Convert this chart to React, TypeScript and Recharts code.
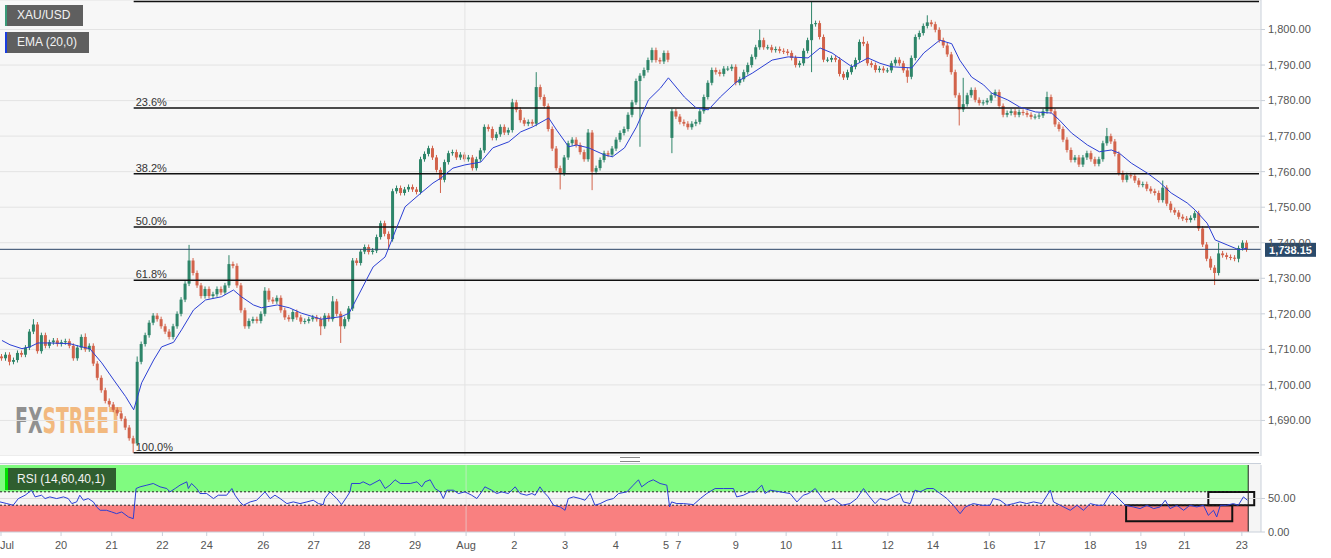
import { ComposedChart, Bar, Line, XAxis, YAxis, CartesianGrid, ReferenceLine, ReferenceArea } from "recharts";

const FONT = '"Liberation Sans", Arial, sans-serif';
const BULL = "#2e8569";
const BEAR = "#d2634b";
const EMA_BLUE = "#2b3fd4";
const AXIS = "#c9d0da";
const WICK = 0.7;

// XAU/USD candles (one per ~2h slot), open = previous close unless a gap open is given
const FIRST_OPEN = 1708;
const LAST_PRICE = 1738.15;
const closes = [
  1707.5, 1708.5, 1706.5, 1707, 1709, 1708.5, 1710.5, 1715, 1717, 1709.5,
  1714, 1711, 1712, 1712.5, 1711.5, 1712, 1712.3, 1711, 1707.5, 1710.5,
  1713.5, 1710, 1711, 1706, 1702, 1698.5, 1695.5, 1694.5, 1693, 1692,
  1690.5, 1688, 1685, 1683.5, 1706.5, 1711.5, 1714, 1717.5, 1719.5, 1718.5,
  1716.5, 1715, 1713.5, 1716.5, 1720, 1724, 1728.5, 1735, 1731.5, 1728,
  1725, 1727, 1725, 1725.5, 1727, 1726, 1728, 1734, 1733.5, 1728,
  1721, 1716.5, 1718, 1718.5, 1718, 1720, 1726.5, 1724, 1723.5, 1724.5,
  1721, 1719, 1718.5, 1720.5, 1719, 1717.8, 1718, 1718.5, 1719, 1718.5,
  1716.5, 1719.5, 1718.5, 1723.5, 1720, 1716.5, 1718.5, 1721.5, 1735, 1734.3,
  1737.5, 1738.8, 1737.4, 1737.8, 1741.6, 1745.5, 1742.5, 1741, 1754.5, 1755.4,
  1754, 1755, 1755.7, 1755, 1754.3, 1763.5, 1765, 1766.6, 1764, 1760.5,
  1757.7, 1762.7, 1765.2, 1765.5, 1764, 1764.8, 1763.5, 1764, 1761, 1763.5,
  1766, 1772.6, 1772, 1769.5, 1770.5, 1772.6, 1771, 1771.7, 1779.5, 1777.4,
  1774.5, 1773.5, 1774, 1773.5, 1783.8, 1781, 1778.5, 1772, 1766.5, 1761,
  1759.5, 1764, 1768, 1769, 1767.5, 1765.5, 1763.5, 1771, 1760, 1761,
  1763.3, 1765.2, 1764.8, 1766.5, 1769, 1770.9, 1772, 1776, 1779.5, 1785.5,
  1787, 1788.6, 1791.4, 1794.2, 1791.4, 1791, 1793.4, 1791.5, 1777, 1775.5,
  1774, 1773.5, 1772.5, 1773.5, 1774, 1777, 1781, 1785, 1788.6, 1788,
  1787.5, 1789, 1789, 1789.5, 1785, 1786, 1788, 1790, 1792.3, 1795,
  1797, 1795, 1795, 1794.2, 1794.5, 1794, 1793.8, 1793.4, 1792, 1790,
  1790.5, 1794, 1797, 1801.5, 1801.8, 1797.9, 1791.5, 1791.5, 1792, 1791.5,
  1787.5, 1786.5, 1788, 1789.5, 1791.4, 1796.5, 1796, 1790.5, 1790, 1788.6,
  1789, 1788.5, 1788.5, 1790.5, 1791.5, 1790.5, 1788.5, 1786.7, 1792, 1797.9,
  1799, 1801, 1802, 1801.5, 1799.9, 1797, 1795.5, 1793, 1788, 1781.5,
  1777.5, 1779, 1781.5, 1783, 1780.2, 1779.3, 1779.5, 1780, 1781.5, 1782.4,
  1778.5, 1776, 1776.5, 1777, 1776, 1776.8, 1776.5, 1776, 1775.4, 1775.5,
  1775.8, 1777, 1781, 1777, 1773.3, 1772, 1769, 1766.1, 1763.3, 1764,
  1762, 1764, 1765.2, 1763.5, 1762.2, 1763.5, 1768, 1770, 1768.5, 1765,
  1759.6, 1757.7, 1759, 1758.8, 1757.5, 1756.3, 1756.5, 1755.2, 1754.5, 1754,
  1752, 1755.5, 1751, 1749.2, 1748.5, 1747.3, 1746.8, 1746.4, 1747, 1748.3,
  1744, 1739.5, 1735.5, 1733, 1731.5, 1737, 1736.5, 1736, 1735.8, 1735.5,
  1738.5, 1740, 1738.15,
];
const gapOpens: Record<number, number> = { 168: 1769.5 };
const highs: Record<number, number> = {
  8: 1718.5, 21: 1714.5, 34: 1708, 47: 1739.4, 57: 1736.5, 66: 1727.5, 83: 1725,
  128: 1780.5, 134: 1788, 147: 1772, 190: 1800, 203: 1807.9, 204: 1802.5, 216: 1798,
  232: 1804, 241: 1786.4, 262: 1782.5, 277: 1772.3, 291: 1757.5, 305: 1740, 311: 1740.5,
};
const lows: Record<number, number> = {
  2: 1705.5, 33: 1680.9, 80: 1714, 85: 1711.8, 97: 1738, 110: 1754, 140: 1755, 148: 1754.8,
  160: 1767, 168: 1765.2, 203: 1788, 227: 1785, 240: 1773, 304: 1728.1, 310: 1734.5,
};

// EMA (20,0) read at candle slots
const emaPoints: [number, number][] = [
  [0, 1712.5], [1, 1711.9], [2, 1711.3], [5, 1710.2], [7, 1710.7], [9, 1711.8], [12, 1711.8], [17, 1711.6],
  [20, 1710.7], [22, 1710.2], [25, 1706.2], [28, 1701.4], [31, 1696.7], [33, 1693], [35, 1700.6],
  [38, 1707], [40, 1710.7], [43, 1712], [45, 1715.5], [48, 1721.1], [51, 1723.9], [55, 1724.8],
  [58, 1726.7], [60, 1724.8], [63, 1722.5], [65, 1721.7], [69, 1722.5], [72, 1721.7], [75, 1720.2],
  [80, 1718.5], [85, 1719.2], [87, 1720.2], [90, 1726.7], [93, 1733.2], [96, 1736], [99, 1744.5],
  [101, 1750.1], [105, 1754], [108, 1756.8], [110, 1758.2], [113, 1761], [116, 1761.9], [120, 1762.7],
  [123, 1766.7], [127, 1768.4], [130, 1771.2], [133, 1772.6], [137, 1775.1], [139, 1771.7], [142, 1767],
  [144, 1767.5], [147, 1766.7], [151, 1764.7], [153, 1764.2], [156, 1766.7], [159, 1772.6], [162, 1780.2],
  [165, 1783.5], [167, 1786.4], [171, 1781], [174, 1777.9], [177, 1777.4], [180, 1781], [184, 1785.2],
  [188, 1787.7], [193, 1791.4], [197, 1792.3], [202, 1792], [205, 1794.8], [208, 1793.4], [213, 1789.5],
  [217, 1792], [220, 1790.5], [223, 1789.5], [228, 1789.2], [231, 1793.4], [235, 1797], [238, 1796],
  [240, 1791.4], [243, 1786.6], [246, 1784.4], [248, 1782.1], [252, 1780.2], [255, 1778.2], [259, 1776.8],
  [263, 1776.5], [265, 1774.5], [268, 1770.9], [272, 1767.5], [275, 1765.6], [278, 1766.1], [280, 1765.2],
  [283, 1762.4], [287, 1759.6], [290, 1757.1], [293, 1754], [297, 1751.2], [299, 1749.2], [302, 1745.5],
  [304, 1740.8], [307, 1739.4], [310, 1738], [312, 1738.5],
];

// RSI (14,60,40,1)
const rsiPoints: [number, number][] = [
  [-0.5, 44.9], [1.2, 42.4], [2.8, 39.9], [4.1, 49.9], [5.8, 54.9], [7.4, 62.4], [8.3, 52.4], [9.9, 54.9],
  [10.8, 49.9], [12, 52.4], [13.7, 49.9], [15.4, 52.4], [16.6, 49.9], [17.5, 42.4], [18.7, 44.9], [19.5, 54.9],
  [20.4, 47.4], [21.6, 49.9], [22.9, 44.9], [23.7, 37.4], [24.6, 32.4], [26.2, 32.4], [27.5, 29.9], [28.7, 27.4],
  [30, 29.9], [31.7, 22.4], [32.9, 19.9], [33.6, 64.9], [34.6, 67.4], [36.3, 69.9], [37.9, 72.4], [39.6, 67.4],
  [41.3, 64.9], [42.1, 59.9], [43.4, 64.9], [44.6, 69.9], [46.3, 74.9], [46.7, 64.9], [47.5, 72.4], [48.8, 64.9],
  [49.6, 57.4], [51.3, 57.4], [53, 49.9], [54.2, 54.9], [56.3, 54.9], [57.6, 64.9], [58.4, 54.9], [59.6, 44.9],
  [60.5, 39.9], [62.2, 44.9], [63.8, 47.4], [65.9, 59.9], [67.2, 49.9], [68.4, 54.9], [69.7, 49.9], [71.4, 42.4],
  [73, 44.9], [74.7, 42.4], [76.4, 44.9], [78, 47.4], [79.3, 42.4], [80.5, 40.9], [80.9, 49.9], [82.2, 59.9],
  [83, 54.9], [83.9, 49.9], [85.1, 40.9], [86.4, 52.4], [87.2, 59.9], [87.6, 72.4], [89.7, 72.4], [90.5, 74.9],
  [92.2, 69.9], [94.7, 77.9], [96, 64.9], [97.2, 69.9], [98.5, 77.9], [99.8, 72.4], [102.3, 72.4], [104, 74.9],
  [105.2, 67.4], [106, 74.9], [107.3, 77.9], [108.5, 64.9], [109.8, 59.9], [110.6, 49.9], [111.5, 62.4], [113.1, 62.4],
  [114.4, 57.4], [116, 59.9], [117.7, 54.9], [119, 49.9], [120.2, 59.9], [121, 67.4], [122.7, 62.4], [124, 57.4],
  [125.2, 59.9], [126.9, 57.4], [128.6, 67.4], [129.8, 57.4], [131.5, 54.9], [132.8, 57.4], [133.6, 54.9], [134.8, 67.4],
  [135.7, 59.9], [136.9, 52.4], [138.2, 39.9], [139.9, 37.4], [141.1, 32.4], [141.9, 49.9], [143.2, 52.4], [144.9, 49.9],
  [146.1, 47.4], [147.4, 57.4], [148.6, 39.9], [149.9, 42.4], [151.6, 47.4], [153.2, 49.9], [154.5, 57.4], [156.6, 59.9],
  [158.2, 69.9], [159.5, 77.9], [160.3, 67.4], [162, 74.9], [163.2, 77.9], [164.9, 72.4], [166.6, 69.9], [167.3, 37.4],
  [167.8, 44.9], [169.1, 42.4], [170.8, 42.4], [173.3, 40.9], [175, 49.9], [176.6, 57.4], [178.7, 64.9], [180.8, 64.9],
  [183.3, 64.9], [184.1, 52.4], [185.8, 54.9], [187.5, 59.9], [188.7, 59.9], [190.4, 69.9], [191.2, 57.4], [192.5, 62.4],
  [195, 59.9], [197.5, 57.4], [199.2, 44.9], [200.8, 54.9], [202.1, 57.4], [203.8, 64.9], [205, 54.9], [206.3, 44.9],
  [208.3, 49.9], [210.5, 39.9], [212.5, 42.4], [214.2, 49.9], [215.9, 64.9], [217.1, 54.9], [218.8, 42.4], [220, 49.9],
  [221.7, 47.4], [223.4, 52.4], [225, 57.4], [225.9, 44.9], [227.6, 42.4], [228.8, 62.4], [230.1, 59.9], [231.8, 64.9],
  [233.4, 64.9], [235.1, 57.4], [236.8, 49.9], [238.4, 39.9], [240.1, 27.4], [241.4, 37.4], [243.4, 42.4], [245.5, 39.9],
  [247.6, 39.9], [248.4, 49.9], [250.1, 47.4], [251.8, 39.9], [253.5, 42.4], [255.1, 44.9], [256.8, 42.4], [258.5, 44.9],
  [260.6, 42.4], [262.7, 62.4], [263.5, 44.9], [265.2, 39.9], [267.7, 32.4], [269.4, 39.9], [271, 32.4], [272.7, 42.4],
  [274.4, 39.9], [276, 39.9], [278.1, 59.9], [279.4, 52.4], [281.5, 39.9], [283.5, 37.4], [285.2, 34.9], [286.9, 39.9],
  [288.6, 34.9], [290.2, 37.4], [291.5, 47.4], [292.7, 34.9], [294.4, 39.9], [296.1, 32.4], [297.7, 39.9], [299.4, 37.4],
  [301.1, 39.9], [302.3, 24.9], [303.6, 32.4], [304.4, 22.4], [305.3, 39.9], [306.9, 39.9], [308.6, 42.4], [309.8, 39.9],
  [311.1, 52.4], [312.1, 47.4],
];

// Fibonacci retracement from the Jul 21 low to the Aug 10 high
const FIB_HIGH = 1807.9;
const FIB_LOW = 1680.9;
const FIB_START = 33;
const fibRatios = [0, 0.236, 0.382, 0.5, 0.618, 1];

const priceTicks = [1690, 1700, 1710, 1720, 1730, 1740, 1750, 1760, 1770, 1780, 1790, 1800];
const dateTicks = [
  -0.25, 14.8, 27.5, 40.2, 51.3, 65.5, 78.1, 90.8, 103.5, 116.3, 128.4, 141.1, 153.8,
  166.4, 169.5, 183.9, 196.5, 209.2, 222, 233.3, 247.4, 260, 272.7, 285.4, 296.3, 310.7,
];
const dateLabels = [
  "Jul", "20", "21", "22", "24", "26", "27", "28", "29", "Aug", "2", "3", "4",
  "5", "7", "9", "10", "11", "12", "14", "16", "17", "18", "19", "21", "23",
];

const PAD_SLOTS = 3;
const LAST_SLOT = closes.length - 1 + PAD_SLOTS;
const ZONE_END = 312.3;

const emaMap = new Map(emaPoints);
const rows = Array.from({ length: closes.length + PAD_SLOTS }, (_, i) => {
  if (i >= closes.length) return { i, ema: null };
  const c = closes[i];
  const o = i === 0 ? FIRST_OPEN : gapOpens[i] ?? closes[i - 1];
  const h = Math.max(highs[i] ?? 0, Math.max(o, c) + WICK);
  const l = Math.min(lows[i] ?? 9999, Math.min(o, c) - WICK);
  return { i, o, c, h, l, range: [l, h], ema: emaMap.get(i) ?? null };
});
const rsiData = rsiPoints.map(([x, v]) => ({ x, v }));

const fmtPrice = (v: number) => v.toLocaleString("en-US", { minimumFractionDigits: 2, maximumFractionDigits: 2 });

function Candle(props: any) {
  const { x, y, width, height, payload } = props;
  if (payload == null || payload.h == null || !isFinite(y)) return null;
  const { o, c, h, l } = payload;
  const px = (p: number) => y + ((h - p) / (h - l)) * height;
  const color = c >= o ? BULL : BEAR;
  const cx = x + width / 2;
  const top = px(Math.max(o, c));
  const bot = px(Math.min(o, c));
  return (
    <g>
      <line x1={cx} x2={cx} y1={y} y2={y + height} stroke={color} strokeWidth={1} />
      <rect x={x} y={top} width={width} height={Math.max(bot - top, 1)} fill={color} />
    </g>
  );
}

function PriceTag(props: any) {
  const { viewBox } = props;
  if (!viewBox) return null;
  const xr = viewBox.x + viewBox.width;
  const y = viewBox.y;
  return (
    <g>
      <rect x={xr + 4} y={y - 6.5} width={51} height={14} fill="#2a4a6b" />
      <text x={xr + 29.5} y={y + 4.5} textAnchor="middle" fill="#fff" fontSize={11} fontWeight="bold">
        {fmtPrice(LAST_PRICE)}
      </text>
    </g>
  );
}

function DateTick(props: any) {
  const { x, y, payload } = props;
  const k = dateTicks.indexOf(payload.value);
  const first = k === 0;
  return (
    <text x={first ? 0 : x} y={y + 11} textAnchor={first ? "start" : "middle"} fill="#555" fontSize={11}>
      {dateLabels[k]}
    </text>
  );
}

function LegendBox({ top, width, bar, bg, text }: { top: number; width: number; bar: string; bg: string; text: string }) {
  return (
    <div
      style={{
        position: "absolute", left: 5, top, width, height: 21, background: bg,
        borderLeft: `2px solid ${bar}`, boxSizing: "border-box", color: "#f2f2f2",
        fontSize: 12, lineHeight: "21px", paddingLeft: 10,
      }}
    >
      {text}
    </div>
  );
}

export default function App() {
  return (
    <div style={{ position: "absolute", left: 0, top: 0, width: 1331, height: 558, background: "#fff", fontFamily: FONT, overflow: "hidden" }}>
      {/* main panel background + watermark */}
      <div style={{ position: "absolute", left: 0, top: 0, width: 1261, height: 456, background: "#f7f7f7" }} />
      <svg width={1261} height={456} style={{ position: "absolute", left: 0, top: 0 }}>
        <text
          x={15} y={433} fontSize={36} fontWeight="bold" textLength={107} lengthAdjust="spacingAndGlyphs"
          fontFamily='"Liberation Sans Narrow", "DejaVu Sans Condensed", sans-serif'
        >
          <tspan fill="#909090">FX</tspan>
          <tspan fill="#f2b97f">STREET</tspan>
        </text>
      </svg>

      <div style={{ position: "absolute", left: 0, top: 0 }}>
        <ComposedChart width={1331} height={456} data={rows} margin={{ top: 0, right: 0, bottom: 0, left: 0 }} barCategoryGap={0}>
          <CartesianGrid vertical={false} stroke="#e3e3e3" />
          <XAxis dataKey="i" type="category" hide />
          <YAxis
            orientation="right" width={70} domain={[1680, 1808.3]} allowDataOverflow ticks={priceTicks} interval={0}
            tickFormatter={fmtPrice} tick={{ fill: "#555", fontSize: 11 }} axisLine={{ stroke: AXIS }}
            tickLine={{ stroke: AXIS }} tickSize={4} tickMargin={3}
          />
          <ReferenceLine x={116} stroke="#e4e4e4" />
          {fibRatios.map((r) => {
            const v = FIB_HIGH - r * (FIB_HIGH - FIB_LOW);
            return (
              <ReferenceLine
                key={r}
                segment={[{ x: FIB_START, y: v }, { x: LAST_SLOT, y: v }]}
                stroke="#111"
                strokeWidth={1.5}
                label={{ value: `${(r * 100).toFixed(1)}%`, position: "insideBottomLeft", offset: 2, fill: "#333", fontSize: 11 }}
              />
            );
          })}
          <ReferenceLine y={LAST_PRICE} stroke="#2a4466" label={<PriceTag />} />
          <Bar dataKey="range" barSize={3} shape={<Candle />} isAnimationActive={false} />
          <Line dataKey="ema" type="linear" stroke={EMA_BLUE} strokeWidth={1} dot={false} activeDot={false} connectNulls isAnimationActive={false} />
        </ComposedChart>
      </div>

      <LegendBox top={5} width={78} bar="#3a9a78" bg="#5f5f5f" text="XAU/USD" />
      <LegendBox top={32} width={84} bar="#1a3de0" bg="#5f5f5f" text="EMA (20,0)" />

      {/* panel splitter */}
      <div style={{ position: "absolute", left: 620, top: 457, width: 20, height: 3, borderTop: "1px solid #888", borderBottom: "1px solid #888" }} />

      {/* RSI panel */}
      <div style={{ position: "absolute", left: 0, top: 463, width: 1261, height: 69, background: "#f5f5f5", borderTop: `1px solid ${AXIS}`, boxSizing: "border-box" }} />
      <div style={{ position: "absolute", left: 0, top: 463 }}>
        <ComposedChart width={1331} height={95} data={rsiData} margin={{ top: 2, right: 0, bottom: 0, left: 0 }}>
          <XAxis
            dataKey="x" type="number" domain={[-0.5, LAST_SLOT + 0.5]} allowDataOverflow ticks={dateTicks} interval={0}
            tick={<DateTick />} height={26} axisLine={{ stroke: AXIS }} tickLine={{ stroke: AXIS }} tickSize={4}
          />
          <YAxis
            orientation="right" width={70} domain={[0, 100]} ticks={[0, 50]} interval={0}
            tickFormatter={(v: number) => v.toFixed(2)} tick={{ fill: "#555", fontSize: 11 }}
            axisLine={{ stroke: AXIS }} tickLine={{ stroke: AXIS }} tickSize={4} tickMargin={3}
          />
          <ReferenceArea x1={-0.5} x2={ZONE_END} y1={60} y2={100} fill="#80fb80" fillOpacity={1} stroke="none" />
          <ReferenceArea x1={-0.5} x2={ZONE_END} y1={0} y2={40} fill="#f98080" fillOpacity={1} stroke="none" />
          <ReferenceLine y={50} stroke="#dcdcdc" />
          <ReferenceLine x={116.3} stroke="#e2e2e2" strokeOpacity={0.6} />
          <ReferenceLine segment={[{ x: -0.5, y: 60 }, { x: ZONE_END, y: 60 }]} stroke="#222" strokeDasharray="2 2" />
          <ReferenceLine segment={[{ x: -0.5, y: 40 }, { x: ZONE_END, y: 40 }]} stroke="#222" strokeDasharray="2 2" />
          <ReferenceLine x={ZONE_END} stroke="#222" />
          <Line dataKey="v" type="linear" stroke={EMA_BLUE} strokeWidth={1} dot={false} activeDot={false} isAnimationActive={false} />
          <ReferenceArea x1={281.7} x2={308.3} y1={16.2} y2={39.8} fill="none" stroke="#111" strokeWidth={2} />
          <ReferenceArea x1={302.3} x2={313.8} y1={39.8} y2={59.8} fill="none" stroke="#111" strokeWidth={2} />
        </ComposedChart>
      </div>
      <div
        style={{
          position: "absolute", left: 5, top: 468, width: 111, height: 22, background: "#2f5e2f",
          borderLeft: "3px solid #00e000", boxSizing: "border-box", color: "#f2f2f2", fontSize: 12,
          lineHeight: "22px", paddingLeft: 9,
        }}
      >
        RSI (14,60,40,1)
      </div>
    </div>
  );
}
